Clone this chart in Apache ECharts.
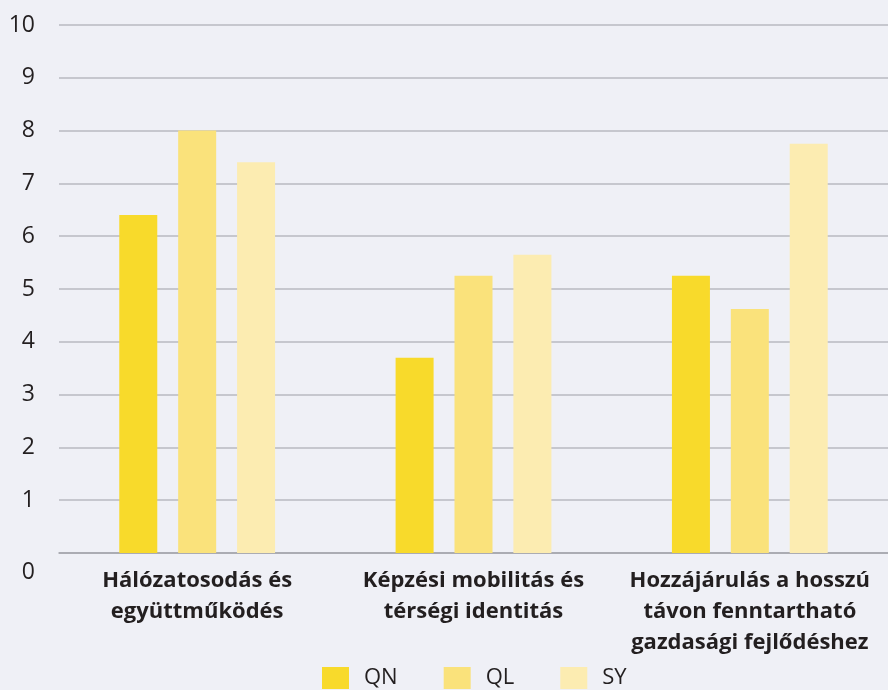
<!DOCTYPE html>
<html>
<head>
<meta charset="utf-8">
<script src="https://cdn.jsdelivr.net/npm/echarts@6/dist/echarts.min.js"></script>
<style>
  html, body { margin: 0; padding: 0; background: #eff0f6; }
  #chart { width: 888px; height: 690px; }
</style>
</head>
<body>
<div id="chart"></div>
<script>
// data
const categories = [
  'Hálózatosodás és\negyüttműködés',
  'Képzési mobilitás és\ntérségi identitás',
  'Hozzájárulás a hosszú\ntávon fenntartható\ngazdasági fejlődéshez'
];
const seriesNames = ['QN', 'QL', 'SY'];
const qnValues = [6.4, 3.7, 5.25];
const qlValues = [8.0, 5.25, 4.62];
const syValues = [7.4, 5.65, 7.75];
const colors = ['#f8da2b', '#fae27b', '#fcecb1'];

const chart = echarts.init(document.getElementById('chart'));

const option = {
  backgroundColor: '#eff0f6',
  animation: false,
  textStyle: { fontFamily: 'Open Sans' },
  grid: { left: 59, right: 0, top: 25, bottom: 137 },
  legend: {
    top: 667,
    left: 322,
    padding: 0,
    itemWidth: 27,
    itemHeight: 22,
    itemGap: 46,
    icon: 'rect',
    textStyle: { fontSize: 22, color: '#231f20', padding: [0, 0, 0, 10] },
    data: seriesNames
  },
  xAxis: {
    type: 'category',
    data: categories,
    axisTick: { show: false },
    axisLine: { lineStyle: { color: '#a3a4ab', width: 1.5 } },
    axisLabel: {
      fontSize: 22,
      fontWeight: 'bold',
      color: '#231f20',
      lineHeight: 31,
      margin: 12,
      interval: 0
    }
  },
  yAxis: {
    type: 'value',
    min: 0,
    max: 10,
    interval: 1,
    axisLine: { show: false },
    axisTick: { show: false },
    splitLine: { lineStyle: { color: '#b9bac1', width: 1.5 } },
    axisLabel: {
      fontSize: 23,
      color: '#231f20',
      margin: 24,
      formatter: v => v === 0 ? '{z|0}' : String(v),
      rich: { z: { fontSize: 23, color: '#231f20', padding: [38, 0, 0, 0] } }
    }
  },
  series: [
    { name: seriesNames[0], type: 'bar', data: qnValues, barWidth: 38, barGap: '55%', itemStyle: { color: colors[0] } },
    { name: seriesNames[1], type: 'bar', data: qlValues, barWidth: 38, barGap: '55%', itemStyle: { color: colors[1] } },
    { name: seriesNames[2], type: 'bar', data: syValues, barWidth: 38, barGap: '55%', itemStyle: { color: colors[2] } }
  ]
};

chart.setOption(option);
</script>
</body>
</html>
